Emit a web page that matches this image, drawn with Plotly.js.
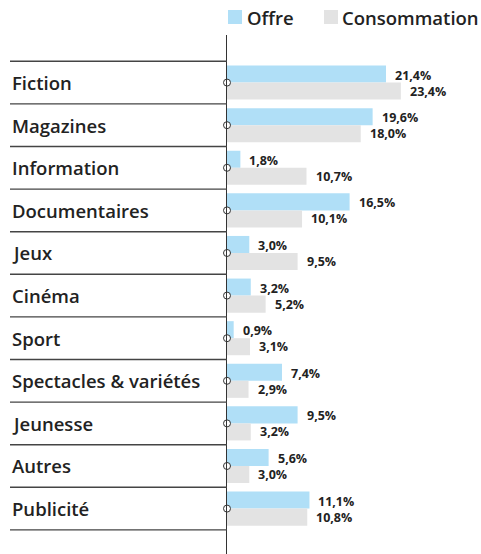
<!DOCTYPE html>
<html>
<head>
<meta charset="utf-8">
<script src="https://cdn.plot.ly/plotly-3.0.1.min.js"></script>
<style>html,body{margin:0;padding:0;background:#fff;}#chart{width:481px;height:554px;}</style>
</head>
<body>
<div id="chart"></div>
<script>
var categories = ["Fiction","Magazines","Information","Documentaires","Jeux","Cinéma","Sport","Spectacles & variétés","Jeunesse","Autres","Publicité"];
var offre = [21.4,19.6,1.8,16.5,3.0,3.2,0.9,7.4,9.5,5.6,11.1];
var consommation = [23.4,18.0,10.7,10.1,9.5,5.2,3.1,2.9,3.2,3.0,10.8];
var seriesNames = ["Offre","Consommation"];
var seriesColors = ["#b0dff7","#e3e3e3"];

var FONT = "Open Sans, sans-serif";
var TXT = "#222222";
var W = 481, H = 554, ML = 227, MT = 35;
var plotW = W - ML, plotH = H - MT;
function px2x(px){ return (px - ML) / plotW; }
function px2y(py){ return (H - py) / plotH; }

function fmt(v){ return v.toFixed(1).replace('.', ',') + '%'; }

var traces = [
  {type:'bar', orientation:'h', name:seriesNames[0], y:categories, x:offre,
   marker:{color:seriesColors[0]}, hoverinfo:'x'},
  {type:'bar', orientation:'h', name:seriesNames[1], y:categories, x:consommation,
   marker:{color:seriesColors[1]}, hoverinfo:'x'},
  {type:'scatter', mode:'markers', y:categories, x:categories.map(function(){return 0;}),
   marker:{symbol:'circle', size:7, color:'#ffffff', line:{color:'#333333', width:1}},
   showlegend:false, cliponaxis:false, hoverinfo:'skip'}
];

var annotations = [];
categories.forEach(function(c, i){
  annotations.push({xref:'paper', yref:'y', x:px2x(10), y:c, xanchor:'left', yanchor:'middle',
    text:c, showarrow:false, font:{family:FONT, size:18.5, color:TXT, weight:600}});
  annotations.push({xref:'x', yref:'y', x:offre[i], y:c, xanchor:'left', yanchor:'middle',
    xshift:8, yshift:7.5, borderpad:0, text:'<b>'+fmt(offre[i])+'</b>', showarrow:false,
    font:{family:FONT, size:12.5, color:TXT}});
  annotations.push({xref:'x', yref:'y', x:consommation[i], y:c, xanchor:'left', yanchor:'middle',
    xshift:8, yshift:-8.5, borderpad:0, text:'<b>'+fmt(consommation[i])+'</b>', showarrow:false,
    font:{family:FONT, size:12.5, color:TXT}});
});

var shapes = [];
for (var k = 0; k <= categories.length; k++) {
  shapes.push({type:'line', xref:'paper', yref:'y', x0:px2x(10), x1:0, y0:k-0.5, y1:k-0.5,
    line:{color:'#444444', width:1.4}});
}

// legend (drawn manually)
var legendSquares = [[228,242],[324,338]];
var legendTextX = [244.5, 340];
seriesNames.forEach(function(n, i){
  shapes.push({type:'rect', xref:'paper', yref:'paper', x0:px2x(legendSquares[i][0]), x1:px2x(legendSquares[i][1]),
    y0:px2y(24), y1:px2y(10), fillcolor:seriesColors[i], line:{width:0}});
  annotations.push({xref:'paper', yref:'paper', x:px2x(legendTextX[i]), y:px2y(17.5), xanchor:'left', yanchor:'middle',
    text:n, showarrow:false, font:{family:FONT, size:18.5, color:TXT, weight:600}});
});

var layout = {
  width:W, height:H,
  margin:{l:ML, r:0, t:MT, b:0, pad:0},
  paper_bgcolor:'#ffffff', plot_bgcolor:'#ffffff',
  font:{family:FONT, color:TXT},
  barmode:'group', bargap:0.2, bargroupgap:0,
  xaxis:{range:[0, plotW/7.43], showgrid:false, zeroline:false, showticklabels:false, showline:false, ticks:''},
  yaxis:{type:'category', range:[11.066, -1.117], showgrid:false, zeroline:false, showticklabels:false,
         showline:true, linecolor:'#333333', linewidth:1, ticks:''},
  showlegend:false,
  annotations:annotations,
  shapes:shapes
};

Plotly.newPlot('chart', traces, layout, {displayModeBar:false, staticPlot:true});
</script>
</body>
</html>
